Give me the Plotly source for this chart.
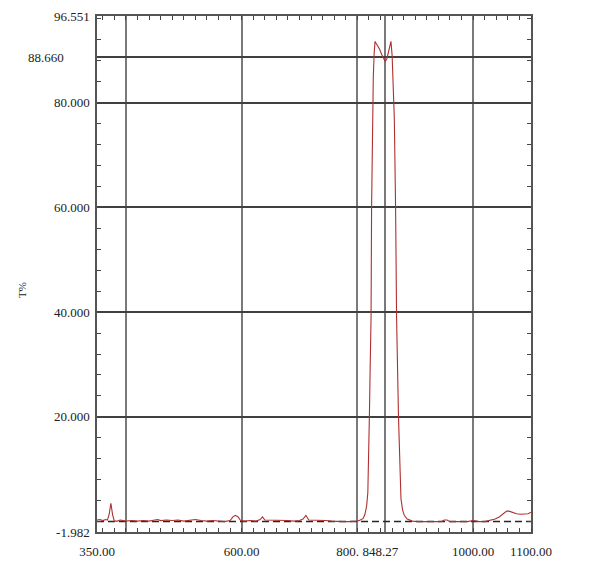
import plotly.graph_objects as go

# ---- data ----
wavelength = [350, 355, 360, 365, 368, 371, 374, 377, 380, 385, 390, 400, 410, 420, 430, 440,
              450, 455, 460, 470, 480, 490, 500, 510, 520, 530, 540, 550, 560, 570, 580,
              585, 589, 594, 598, 605, 615, 625, 632, 636, 640, 650, 660, 670, 680, 690,
              700, 706, 711, 716, 725, 735, 745, 755, 765, 775, 785, 795, 800, 805, 810,
              813, 816, 818, 819.5, 820.7, 822, 823.6, 824.5, 826.3, 827.5, 829, 830.5,
              832, 835, 838, 842, 845, 848, 851, 854, 856.5, 858, 860, 862, 863.8, 866,
              867.7, 871, 873, 875.3, 878, 881, 886, 895, 905, 915, 925, 935, 945, 950,
              955, 960, 970, 980, 990, 1000, 1010, 1020, 1030, 1038, 1045, 1052, 1058,
              1062, 1068, 1075, 1082, 1090, 1095, 1100]
transmittance = [0.3, 0.4, 0.2, 0.4, 0.3, 1.4, 3.5, 1.3, 0.1, 0.1, 0.3, 0.1, 0.2, 0.1, 0.2, 0.1,
                 0.3, 0.4, 0.2, 0.3, 0.2, 0.3, 0.1, 0.3, 0.4, 0.2, 0.1, 0.2, 0.1, 0.0, 0.2,
                 0.9, 1.2, 0.9, 0.2, 0.1, 0.2, 0.1, 0.4, 0.9, 0.3, 0.3, 0.3, 0.3, 0.2, 0.1,
                 0.2, 0.5, 1.2, 0.3, 0.3, 0.2, 0.2, 0.1, 0.0, 0.0, 0.0, 0.0, 0.1, 0.3, 0.6,
                 1.4, 3.0, 5.5, 11, 20, 29, 39, 60, 77, 85, 89.5, 91.7,
                 91.4, 90.9, 90.3, 89.2, 88.5, 87.9, 88.4, 90.0, 91.3, 91.7, 89, 83, 77, 60,
                 39, 20, 11, 4.4, 2.3, 1.2, 0.5, 0.1, 0.0, 0.0, 0.0, 0.0, 0.0, 0.3,
                 0.3, 0.0, 0.0, 0.0, 0.0, 0.2, 0.0, 0.0, 0.2, 0.5, 0.9, 1.4, 2.0,
                 2.0, 1.7, 1.5, 1.4, 1.4, 1.5, 1.8]
zero_level = [0, 0]

x_tick_vals = [350, 400, 600, 800, 848.27, 1000, 1100]
x_tick_text = ["350.00", "", "600.00", "800." + "\u00a0" * 6,
               "848.27" + "\u00a0" * 3, "1000.00", "1100.00"]
y_tick_vals = [-1.982, 20, 40, 60, 80, 88.66, 96.551]
y_tick_text = ["-1.982", "20.000", "40.000", "60.000", "80.000",
               "88.660" + "\u00a0" * 8, "96.551"]
x_range = [350, 1100]
y_range = [-1.982, 96.551]

fig = go.Figure()
fig.add_trace(go.Scatter(x=x_range, y=zero_level, mode="lines",
                         line=dict(color="#262626", width=1.5, dash="7px,4px"),
                         showlegend=False, hoverinfo="skip"))
fig.add_trace(go.Scatter(x=wavelength, y=transmittance, mode="lines",
                         line=dict(color="#b03030", width=1.1), showlegend=False,
                         hoverinfo="skip"))

font = dict(family="Liberation Serif, DejaVu Serif, serif", size=13, color="#222222")

fig.update_xaxes(range=x_range, tickmode="array", tickvals=x_tick_vals, ticktext=x_tick_text,
                 tickangle=0, showgrid=True, gridcolor="#7a7a7a", gridwidth=1.5,
                 showline=True, linecolor="#555555", linewidth=1.5, mirror="allticks",
                 ticks="", zeroline=False, tickfont=font, ticklabelstandoff=7,
                 automargin=False,
                 minor=dict(ticks="inside", dtick=20, tick0=0, ticklen=4,
                            tickcolor="#444444", tickwidth=1, showgrid=False))
fig.update_yaxes(range=y_range, tickmode="array", tickvals=y_tick_vals, ticktext=y_tick_text,
                 showgrid=True, gridcolor="#404040", gridwidth=1.5,
                 showline=True, linecolor="#555555", linewidth=1.5, mirror="allticks",
                 ticks="", zeroline=False, tickfont=font, ticklabelstandoff=3,
                 automargin=False,
                 minor=dict(ticks="inside", dtick=4, tick0=0, ticklen=4,
                            tickcolor="#444444", tickwidth=1, showgrid=False))

fig.add_annotation(text="T%", xref="paper", yref="paper", x=-0.173, y=0.469,
                   textangle=-90, showarrow=False, xanchor="center", yanchor="middle",
                   font=dict(family="Liberation Serif, serif", size=11, color="#222222"))
fig.add_annotation(text="nm", xref="paper", yref="paper", x=0.49, y=-0.072,
                   showarrow=False, xanchor="center", yanchor="top",
                   font=dict(family="Liberation Serif, serif", size=11, color="#222222"))

fig.update_layout(width=589, height=571, margin=dict(l=97, r=58, t=16, b=39),
                  plot_bgcolor="white", paper_bgcolor="white")

fig.write_html("out.html", config={"displayModeBar": False},
               post_script="document.body.style.margin='0';document.body.style.overflow='hidden';")
